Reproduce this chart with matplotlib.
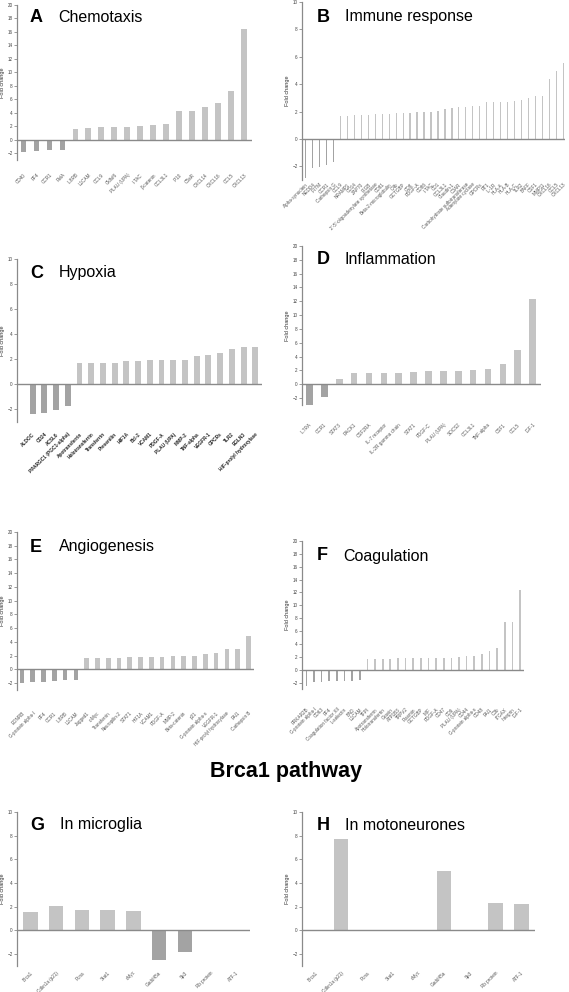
import matplotlib
matplotlib.use("Agg")
import matplotlib.pyplot as plt

plt.rcParams['font.family'] = ['Liberation Sans', 'DejaVu Sans']

W, H = 569, 992
POS = "#c4c4c4"
NEG = "#a3a3a3"
AXC = "#8a8a8a"

# A - chemotaxis
chemo_genes = ["CD40", "PF4", "CCR1", "RelA", "IL8RB", "L1CAM", "CCL9", "Cklfsf6",
               "PLAU (UPA)", "I-TAC", "β-catenin", "CCL3L1", "IP10", "C5aR",
               "CXCL14", "CXCL16", "CCL5", "CXCL13"]
chemo_fc = [-1.75, -1.6, -1.55, -1.55, 1.56, 1.8, 1.9, 1.9, 1.85, 2.05, 2.15, 2.4,
            4.2, 4.2, 4.8, 5.5, 7.3, 16.4]

# B - immune response
immune_genes = ["Alpha-synuclein", "NEDD4", "IFITM", "CCR1", "Cathepsin G", "CCL9",
                "NRAMP1", "CD14", "ZAP70", "IRGB", "2'-5'-oligoadenylate synthetase",
                "CD81", "Beta-2-microglobulin", "C4b", "GCTGBP", "CD8", "PDGF-A",
                "CD86", "I-TAC", "CD1", "CCL3L1", "Claudin-1", "C3AR",
                "Carbohydrate sulfotransferase", "Adenylate cyclase", "GPCRs",
                "RT1", "IL-1R", "HLA-A", "HLA-B", "HLA-C", "TLR2", "BAFF", "CSF1",
                "MMP11", "CXCL16", "CCL5", "CXCL13"]
immune_fc = [-2.85, -2.1, -2.05, -1.9, -1.65, 1.66, 1.71, 1.73, 1.76, 1.78, 1.81,
             1.81, 1.83, 1.86, 1.88, 1.9, 1.93, 1.93, 2.0, 2.07, 2.17, 2.29, 2.31,
             2.34, 2.41, 2.43, 2.7, 2.72, 2.72, 2.72, 2.75, 2.87, 2.99, 3.1, 3.13,
             4.36, 4.94, 5.57]

# C - hypoxia
hypoxia_genes = ["ALDOC", "CD24", "ACSL6", "PPARGC1 (PGC1-alpha)", "Apotransferrin",
                 "Holotransferrin", "Transferrin", "Presenilin", "HIF1A", "Bcl-2",
                 "VCAM1", "PDGF-A", "PLAU (UPA)", "MMP-2", "TNF-alpha", "VEGFR-1",
                 "GPCRs", "TLR2", "EGLN3", "HIF-prolyl hydroxylase"]
hypoxia_fc = [-2.4, -2.3, -2.05, -1.75, 1.7, 1.7, 1.7, 1.72, 1.85, 1.88, 1.92, 1.92,
              1.97, 1.98, 2.28, 2.38, 2.5, 2.8, 3.0, 3.0]

# D - inflammation
inflam_genes = ["IL7RA", "CCR1", "STAT3", "RACK1", "CSF2RA", "IL-7 receptor",
                "IL-2R gamma chain", "STAT1", "PDGF-C", "PLAU (UPA)", "SOCS2",
                "CCL3L1", "TNF-alpha", "CSF1", "CCL5", "IGF-1"]
inflam_fc = [-3.0, -1.8, 0.8, 1.7, 1.7, 1.7, 1.7, 1.75, 1.85, 1.85, 1.9, 2.1, 2.2,
             3.0, 4.9, 12.4]

# E - angiogenesis
angio_genes = ["EDNRB", "G-protein alpha-I", "PF4", "CCR1", "IL8RB", "L1CAM",
               "Jagged1", "c-Myc", "Transferrin", "Neuropilin-2", "STAT1", "HIF1A",
               "VCAM1", "PDGF-A", "MMP-2", "Beta-catenin", "p21",
               "G-protein alpha-s", "VEGFR-1", "HIF-prolyl hydroxylase", "PAI1",
               "Cathepsin B"]
angio_fc = [-2.0, -1.8, -1.8, -1.75, -1.6, -1.6, 1.6, 1.65, 1.65, 1.7, 1.78, 1.83,
            1.83, 1.83, 1.95, 1.95, 2.0, 2.25, 2.35, 2.9, 2.9, 4.9]

# F - coagulation
coag_genes = ["PRKAR2B", "G-protein alpha-I", "CD63", "PF4", "Coagulation factor XII",
              "L-selectin", "BAD", "L1CAM", "TFPI", "Apotransferrin",
              "Holotransferrin", "Gravin", "ATP1B3", "TRPV2", "Plasmin", "GCTGBP",
              "MIF", "PDGF-A", "CD47", "CD9", "PLAU (UPA)", "CD44",
              "G-protein alpha-s", "CD48", "PAI1", "C3b", "ITGAX", "Integrin",
              "IGF-1"]
coag_fc = [-2.55, -1.85, -1.85, -1.8, -1.75, -1.75, -1.7, -1.65, 1.6, 1.65, 1.65,
           1.7, 1.75, 1.75, 1.75, 1.8, 1.8, 1.85, 1.85, 1.85, 1.9, 2.15, 2.2, 2.4,
           2.85, 3.35, 7.35, 7.35, 12.4]

# G/H - Brca1 pathway
brca_genes = ["Brca1", "Cdkn1a (p21)", "Pcna", "Stat1", "cMyc", "Gadd45a", "Sp3",
              "Rb protein", "ATF-1"]
microglia_fc = [1.6, 2.05, 1.7, 1.75, 1.65, -2.5, -1.8, 0, 0]
motoneuron_fc = [0, 7.75, 0, 0, 0, 5.05, 0, 2.3, 2.25]

fig = plt.figure(figsize=(W / 100, H / 100), dpi=100)


def ftext(x, y, s, **kw):
    fig.text(x / W, 1 - y / H, s, va="center", **kw)


def panel(box, genes, fc, top, xlim, width, letter, title, lxy, txy, pad,
          bold_labels=False):
    left, right, ytop, ybot = box
    ax = fig.add_axes([left / W, 1 - ybot / H, (right - left) / W, (ybot - ytop) / H])
    colors = [POS if v >= 0 else NEG for v in fc]
    ax.bar(range(len(genes)), fc, width=width, color=colors, zorder=2)
    ax.axhline(0, color=AXC, lw=1.0, zorder=3)
    ax.set_ylim(-3, top)
    ax.set_xlim(*xlim)
    for s in ["top", "right", "bottom"]:
        ax.spines[s].set_visible(False)
    ax.spines["left"].set_color(AXC)
    ax.spines["left"].set_linewidth(0.9)
    ax.set_yticks(range(-2, top + 1, 2))
    ax.tick_params(axis="y", labelsize=3.3, length=2, width=0.6, color=AXC,
                   labelcolor="#444444", pad=1)
    ax.set_xticks(range(len(genes)))
    ax.set_xticklabels(genes, rotation=45, ha="right", rotation_mode="anchor",
                       fontsize=3.4 if bold_labels else 3.3,
                       color="#222222" if bold_labels else "#555555",
                       fontweight="bold" if bold_labels else "normal")
    ax.tick_params(axis="x", length=0, pad=pad)
    ax.set_ylabel("Fold change", fontsize=4, labelpad=2, color="#333333")
    ax.patch.set_visible(False)
    ftext(lxy[0], lxy[1], letter, fontsize=13, fontweight="bold")
    ftext(txy[0], txy[1], title, fontsize=11.5)
    return ax


panel((17, 252, 5, 160), chemo_genes, chemo_fc, 20, (-0.5, 17.58), 0.46,
      "A", "Chemotaxis", (30, 18), (58, 18), 9)
panel((302, 565, 2, 180), immune_genes, immune_fc, 10, (-0.53, 37.25), 0.18,
      "B", "Immune response", (317, 17), (345, 17), 1.5)
panel((17, 262, 259, 422), hypoxia_genes, hypoxia_fc, 10, (-1.33, 19.57), 0.5,
      "C", "Hypoxia", (30, 273), (59, 273), 7, bold_labels=True)
panel((302, 541, 246, 405), inflam_genes, inflam_fc, 20, (-0.5, 15.56), 0.45,
      "D", "Inflammation", (317, 259), (345, 259), 12.5)
panel((17, 254, 532, 690), angio_genes, angio_fc, 20, (-0.46, 21.52), 0.43,
      "E", "Angiogenesis", (30, 547), (59, 547), 15)
panel((302, 524, 541, 689), coag_genes, coag_fc, 20, (-0.57, 28.52), 0.22,
      "F", "Coagulation", (317, 556), (343, 556), 13)
panel((17, 250, 812, 966), brca_genes, microglia_fc, 10, (-0.52, 8.53), 0.57,
      "G", "In microglia", (30, 825), (60, 825), 3)
panel((302, 535, 812, 966), brca_genes, motoneuron_fc, 10, (-0.52, 8.53), 0.57,
      "H", "In motoneurones", (317, 826), (345, 826), 3)

ftext(286, 771, "Brca1 pathway", fontsize=15.5, fontweight="bold", ha="center")

fig.savefig("out.png", dpi=100)
